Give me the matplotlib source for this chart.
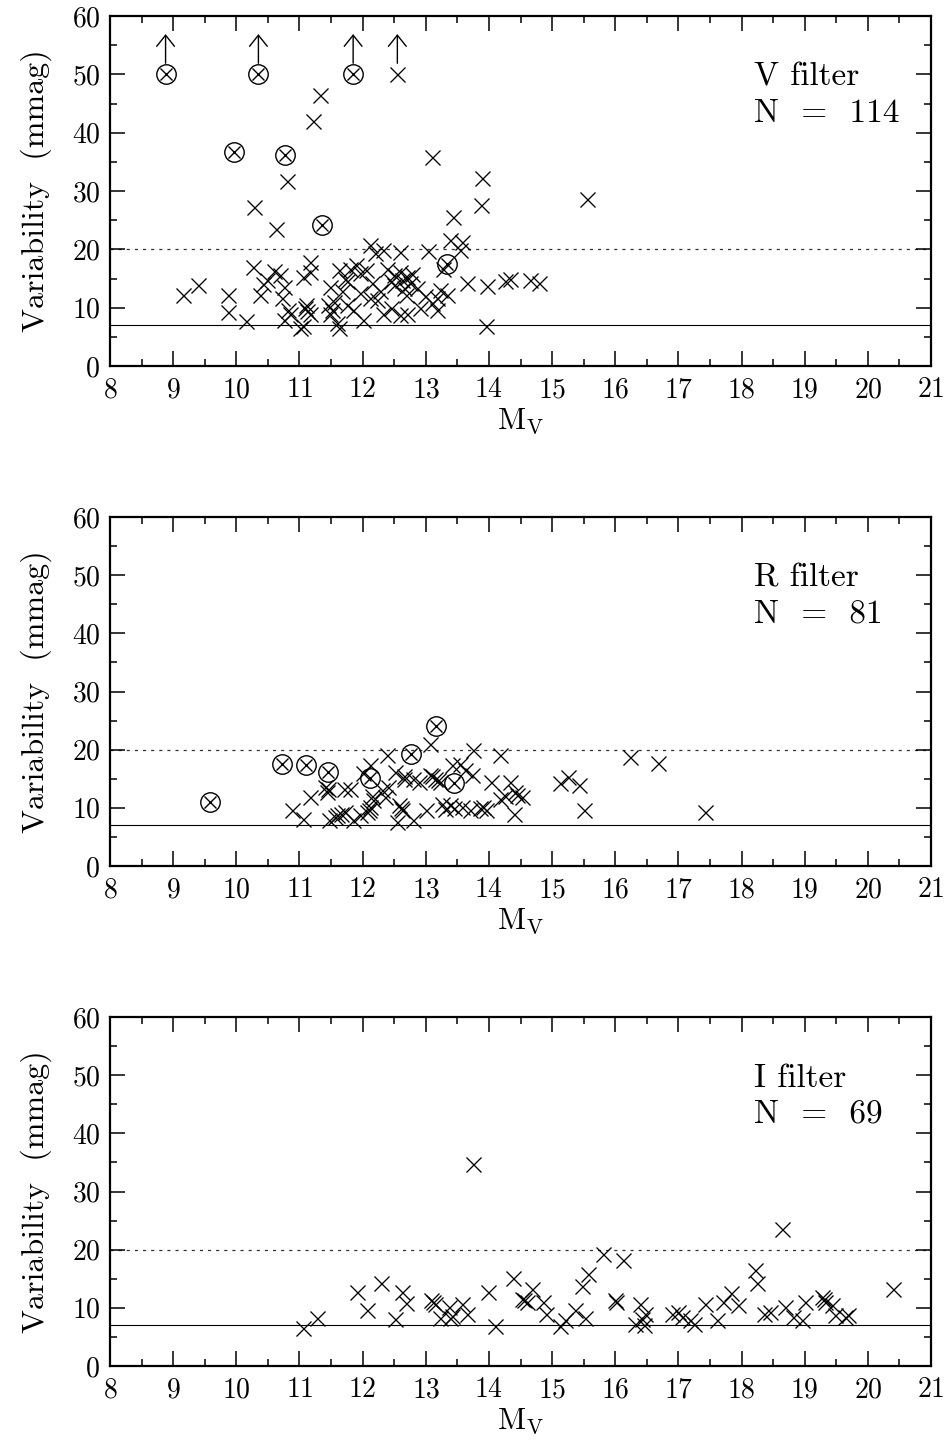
import matplotlib
matplotlib.use("Agg")
import matplotlib.pyplot as plt
import numpy as np

plt.rcParams['font.family'] = ['cmr10', 'DejaVu Serif']
plt.rcParams['mathtext.fontset'] = 'cm'
plt.rcParams['axes.formatter.use_mathtext'] = True

# ---------------- data ----------------
# V filter
V_x = [12.55, 11.33, 11.21, 10.80, 10.28, 10.63, 13.10, 13.89, 13.87, 13.43, 15.55, 13.95,
       13.97, 14.25, 14.33, 14.65, 14.80,
       9.16, 9.40, 9.87, 9.87, 10.15, 10.26, 10.42, 10.37, 10.59, 10.69, 10.75, 10.72, 10.82,
       10.75, 11.01, 11.06, 11.17, 11.17, 11.11, 11.17, 11.48, 11.54, 11.48, 11.62, 11.62,
       11.75, 11.80, 11.90, 11.96, 11.96, 11.75, 11.85, 12.01, 12.12, 12.20, 12.33, 12.12,
       12.22, 12.33, 12.38, 12.49, 12.59, 12.70, 12.49, 12.65, 12.75, 12.86, 12.59, 12.70,
       12.91, 12.59, 13.04, 13.38, 13.57, 13.54, 13.28, 13.65, 13.17, 13.33, 13.17,
       11.08, 11.12, 11.45, 11.52, 11.05, 11.60, 10.85, 11.68, 11.72, 12.05, 12.15, 12.27,
       12.45, 12.62, 12.78, 12.68, 12.45, 13.10, 13.22, 12.98, 10.48]
V_y = [50.0, 46.5, 42.0, 31.7, 27.2, 23.5, 35.8, 32.2, 27.6, 25.5, 28.6, 6.9,
       13.7, 14.5, 15.0, 14.7, 14.2,
       12.2, 13.9, 12.2, 9.2, 7.7, 17.0, 14.0, 12.2, 16.3, 15.6, 13.6, 11.7, 9.6,
       7.9, 6.5, 15.3, 17.9, 16.2, 10.5, 9.0, 13.6, 11.0, 9.0, 6.5, 16.5,
       14.5, 16.7, 17.3, 15.9, 12.5, 10.5, 9.6, 7.9, 20.7, 19.3, 19.9, 11.6,
       11.3, 9.0, 16.7, 15.6, 16.2, 15.3, 13.9, 13.3, 14.2, 13.3, 8.7, 9.0,
       9.9, 19.6, 19.7, 21.6, 21.3, 19.9, 16.7, 14.2, 11.6, 12.2, 9.6,
       10.0, 9.5, 10.4, 9.6, 6.8, 7.3, 9.0, 12.9, 15.0, 16.5, 14.2, 12.8,
       14.5, 14.8, 15.8, 12.2, 10.0, 10.8, 13.0, 12.0, 14.8]
V_circ_x = [8.88, 10.35, 11.85, 9.97, 10.77, 11.35, 13.33]
V_circ_y = [50.0, 50.0, 50.0, 36.7, 36.2, 24.2, 17.5]
V_limit_x = [8.88, 10.35, 11.85, 12.55]
V_limit_y = [50.0, 50.0, 50.0, 50.0]

# R filter
R_x = [10.88, 11.06, 11.17, 11.40, 11.43, 11.46, 11.57, 11.65, 11.72, 11.70, 11.80, 11.85,
       11.96, 12.12, 12.38, 12.17, 12.12, 12.07, 12.30, 12.51, 12.65, 12.57, 12.62, 12.54,
       12.80, 12.80, 13.07, 13.01, 13.07, 13.15, 13.23, 13.25, 13.38, 13.41, 13.54, 13.57,
       13.70, 13.75, 13.73, 13.86, 13.91, 14.18, 14.04, 14.18, 14.34, 14.41, 14.52, 14.39,
       15.13, 15.26, 15.42, 15.50, 16.23, 16.68, 17.42,
       13.10, 13.20, 11.60, 12.10, 12.15, 12.60, 12.65, 13.30, 13.45, 13.95, 14.45, 11.45,
       12.00, 12.40, 12.90, 13.62, 14.25, 12.35]
R_y = [9.6, 8.0, 11.8, 13.6, 12.7, 7.9, 8.5, 9.0, 9.3, 13.3, 13.3, 7.9,
       8.7, 17.3, 19.0, 11.3, 10.2, 9.3, 13.0, 16.2, 15.0, 10.5, 9.6, 7.6,
       7.9, 15.0, 21.0, 9.6, 15.6, 15.0, 14.5, 10.7, 10.5, 17.3, 17.6, 10.2,
       9.6, 19.9, 15.6, 9.9, 10.2, 19.0, 14.5, 11.6, 14.5, 12.7, 11.9, 9.0,
       14.3, 15.3, 13.9, 9.6, 18.75, 17.7, 9.3,
       15.4, 14.8, 8.8, 9.6, 12.0, 10.0, 15.5, 9.8, 10.0, 9.6, 12.2, 13.2,
       16.0, 13.5, 14.5, 16.5, 12.0, 11.8]
R_circ_x = [9.58, 10.73, 11.10, 11.45, 12.11, 12.76, 13.16, 13.44]
R_circ_y = [11.0, 17.5, 17.3, 16.2, 15.2, 19.2, 24.0, 14.3]

# I filter
I_x = [11.05, 11.27, 11.91, 12.07, 12.29, 12.51, 12.63, 12.68, 13.09, 13.12, 13.14, 13.23,
       13.36, 13.38, 13.58, 13.65, 13.75, 13.99, 14.10, 14.38, 14.53, 14.56, 14.60, 14.68,
       14.86, 14.91, 15.13, 15.21, 15.37, 15.52, 15.47, 15.57, 15.81, 16.13, 16.00, 16.02,
       16.31, 16.39, 16.47, 16.45, 16.90, 17.00, 17.05, 17.18, 17.24, 17.42, 17.61, 17.71,
       17.84, 17.95, 18.21, 18.24, 18.35, 18.45, 18.64, 18.69, 18.82, 18.95, 19.01, 19.27,
       19.32, 19.43, 19.48, 19.64, 19.69, 20.40, 13.42, 16.42, 19.30]
I_y = [6.6, 8.2, 12.7, 9.7, 14.2, 8.0, 12.7, 10.9, 11.3, 11.0, 10.7, 8.2,
       10.2, 8.2, 10.7, 9.0, 34.7, 12.7, 6.9, 15.2, 11.6, 11.3, 11.0, 13.3,
       11.0, 9.0, 6.8, 7.9, 9.7, 8.2, 13.8, 15.9, 19.3, 18.2, 11.3, 11.0,
       7.3, 10.7, 9.0, 7.1, 9.0, 9.3, 8.5, 7.9, 7.3, 10.7, 7.9, 11.0,
       12.5, 10.5, 16.5, 14.3, 9.0, 9.3, 23.6, 10.2, 8.5, 7.9, 11.0, 11.9,
       11.0, 10.5, 8.7, 8.5, 8.7, 13.3, 8.6, 8.0, 11.5]

panel_names = ["V filter", "R filter", "I filter"]
panel_N = [114, 81, 69]
x_ticks = list(range(8, 22))
y_ticks = [0, 10, 20, 30, 40, 50, 60]
limit_line = 7.0
threshold_line = 20.0

# ---------------- figure ----------------
fig = plt.figure(figsize=(9.51, 14.56), dpi=100)
W, H = 951.0, 1456.0
left = 110 / W
width = (931 - 110) / W
panel_px = [(16, 366), (517, 866), (1017, 1366)]

datasets = [
    (V_x, V_y, V_circ_x, V_circ_y, V_limit_x, V_limit_y),
    (R_x, R_y, R_circ_x, R_circ_y, [], []),
    (I_x, I_y, [], [], [], []),
]

for k, (top, bot) in enumerate(panel_px):
    ax = fig.add_axes([left, 1 - bot / H, width, (bot - top) / H])
    px, py, cx, cy, lx, ly = datasets[k]
    ax.set_xlim(8, 21)
    ax.set_ylim(0, 60)
    ax.axhline(limit_line, color='black', lw=0.8, zorder=1)
    ax.axhline(threshold_line, color='#333333', lw=0.9, ls=(0, (2.5, 4.0)), zorder=1)
    ax.plot(px, py, ls='none', marker='x', ms=10.8, mew=0.95, color='black', zorder=3)
    if cx:
        ax.plot(cx, cy, ls='none', marker='o', ms=14.0, mew=1.0, mfc='none',
                mec='black', zorder=3)
        ax.plot(cx, cy, ls='none', marker='x', ms=9.3, mew=1.0, color='black', zorder=3)
    for xx, yy in zip(lx, ly):
        ax.annotate('', xy=(xx, yy + 6.9), xytext=(xx, yy + 1.9),
                    arrowprops=dict(arrowstyle='->,head_length=0.4,head_width=0.32',
                                    lw=1.0, color='black', shrinkA=0, shrinkB=0,
                                    mutation_scale=20))
    ax.set_xticks(x_ticks)
    ax.set_yticks(y_ticks)
    ax.set_xticks(np.arange(8.5, 21, 1.0), minor=True)
    ax.set_yticks(np.arange(5, 60, 10), minor=True)
    ax.tick_params(which='both', direction='in', top=True, right=True, width=1.1)
    ax.tick_params(which='major', length=11, labelsize=20)
    ax.tick_params(which='minor', length=5)
    ax.tick_params(axis='x', which='major', pad=8)
    ax.tick_params(axis='y', which='major', pad=7)
    for s in ax.spines.values():
        s.set_linewidth(1.6)
    ax.set_xlabel(r'$\mathrm{M_V}$', fontsize=22, labelpad=2)
    ax.set_ylabel('Variability  (mmag)', fontsize=23, labelpad=14)
    ax.text(18.2, 49.5, panel_names[k], fontsize=24, ha='left', va='center')
    ax.text(18.2, 43.3, 'N  =  %d' % panel_N[k], fontsize=24, ha='left', va='center')

fig.savefig('out.png', dpi=100)
